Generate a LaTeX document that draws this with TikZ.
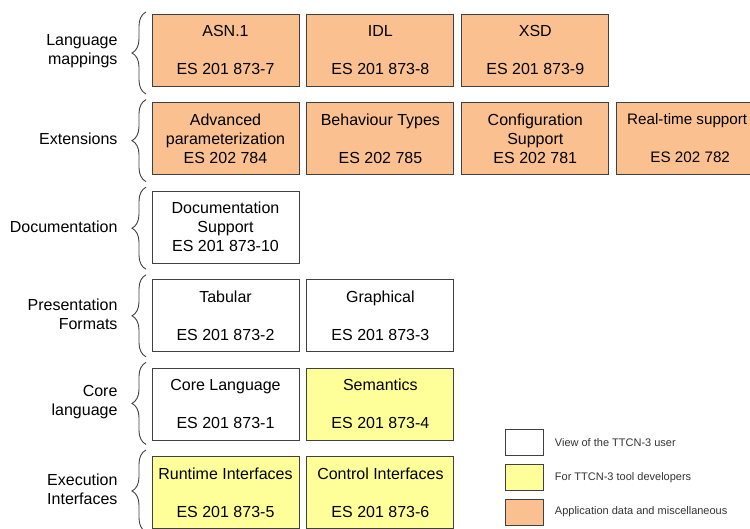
\documentclass[tikz,border=0pt]{standalone}
\usepackage{fontspec}
\setmainfont{Liberation Sans}
\usetikzlibrary{positioning,decorations.pathreplacing}
\definecolor{boxline}{HTML}{404040}
\definecolor{appfill}{HTML}{FAC090}
\definecolor{toolfill}{HTML}{FFFF99}
\begin{document}
\begin{tikzpicture}[x=1pt,y=-1pt,
    node distance=15.6pt and 7pt,
    part/.style={draw=boxline,line width=0.9pt,minimum width=147pt,minimum height=72pt,inner sep=0pt,align=center,font=\fontsize{16}{19}\selectfont},
    user/.style={part,fill=white},
    tool/.style={part,fill=toolfill},
    appl/.style={part,fill=appfill},
    layer/.style={anchor=east,align=right,font=\fontsize{16}{19}\selectfont},
    group/.style={draw=boxline,line width=0.9pt,decorate,decoration={brace,amplitude=14pt}},
    key/.style={draw=boxline,line width=0.8pt,minimum width=38pt,minimum height=26pt,inner sep=0pt},
    keytext/.style={anchor=west,font=\fontsize{11}{13}\selectfont,text=black!80}
  ]
  \useasboundingbox (0,0) rectangle (750,528);

  % layers on the left
  \foreach \txt [count=\i from 0] in {{Language\\mappings},Extensions,Documentation,{Presentation\\Formats},{Core\\language},{Execution\\Interfaces}} {
    \coordinate (r\i) at (0,51.5+87.6*\i);
    \node[layer] (lab\i) at ([xshift=121pt]r\i) {\txt};
    \draw[group] ([shift={(146pt,-42.5pt)}]r\i) -- ([shift={(146pt,39.5pt)}]r\i);
  }

  % parts of the standard
  \node[appl] (asn) at (225.5,50) {ASN.1\\~\\ES 201 873-7};
  \node[appl,right=of asn] (idl) {IDL\\~\\ES 201 873-8};
  \node[appl,right=of idl] (xsd) {XSD\\~\\ES 201 873-9};
  \node[appl,below=of asn] (adv) {Advanced\\parameterization\\ES 202 784};
  \node[appl,right=of adv] (beh) {Behaviour Types\\~\\ES 202 785};
  \node[appl,right=of beh] (cfg) {Configuration\\Support\\ES 202 781};
  \node[appl,right=of cfg,font=\fontsize{15.2}{19}\selectfont] (rts) {\hspace*{-6pt}Real-time support\\~\\ES 202 782};
  \node[user,below=of adv] (doc) {Documentation\\Support\\ES 201 873-10};
  \node[user,below=of doc] (tab) {Tabular\\~\\ES 201 873-2};
  \node[user,right=of tab] (gra) {Graphical\\~\\ES 201 873-3};
  \node[user,below=of tab] (core) {Core Language\\~\\ES 201 873-1};
  \node[tool,right=of core] (sem) {Semantics\\~\\ES 201 873-4};
  \node[tool,below=of core] (rti) {Runtime Interfaces\\~\\ES 201 873-5};
  \node[tool,right=of rti] (cti) {Control Interfaces\\~\\ES 201 873-6};

  % legend
  \node[key,fill=white] (k1) at (524,442.5) {};
  \node[key,fill=toolfill,below=8pt of k1] (k2) {};
  \node[key,fill=appfill,below=8pt of k2] (k3) {};
  \node[keytext] (t1) at ([xshift=8pt]k1.east) {View of the TTCN-3 user};
  \node[keytext] (t2) at ([xshift=8pt]k2.east) {For TTCN-3 tool developers};
  \node[keytext] (t3) at ([xshift=8pt]k3.east) {Application data and miscellaneous};
\end{tikzpicture}
\end{document}
